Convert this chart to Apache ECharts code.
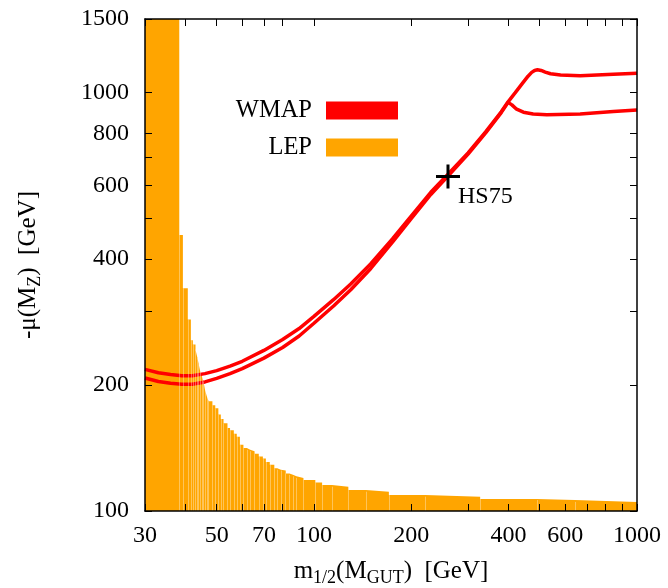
<!DOCTYPE html>
<html>
<head>
<meta charset="utf-8">
<script src="https://cdn.jsdelivr.net/npm/echarts@6/dist/echarts.min.js"></script>
<style>
  html, body { margin: 0; padding: 0; background: #fff; }
  #chart { width: 668px; height: 588px; }
</style>
</head>
<body>
<div id="chart"></div>
<script>
// Axis ranges (GeV)
const xRange = [30, 1000];
const yRange = [100, 1500];

// Tick marks and labelled ticks
const xTicks = [30, 40, 50, 60, 70, 80, 100, 200, 300, 400, 500, 600, 700, 800, 900, 1000];
const xLabels = [30, 50, 70, 100, 200, 400, 600, 1000];
const yTicks = [100, 200, 300, 400, 500, 600, 700, 800, 1000, 1500];
const yLabels = [100, 200, 400, 600, 800, 1000, 1500];

// WMAP-allowed strip: its two edges, [m1/2, -mu]
const wmapUpper = [
  [30, 218], [33, 214], [36, 212], [39, 210.5], [42, 210.5], [46, 213], [50, 216.5],
  [55, 222], [60, 228], [70, 242], [80, 257], [90, 273], [100, 292], [115, 320],
  [130, 349], [150, 390], [175, 447], [200, 507], [230, 578], [260, 638], [300, 718],
  [340, 806], [380, 900], [399, 951], [420, 1000], [440, 1048], [460, 1095], [472, 1118],
  [482, 1130], [492, 1134], [505, 1130], [520, 1120], [540, 1110], [580, 1102],
  [667, 1098], [845, 1107], [1000, 1113]
];
const wmapLower = [
  [30, 208], [33, 204], [36, 202], [39, 201], [42, 201], [46, 203.5], [50, 207.5],
  [55, 213], [60, 219], [70, 232], [80, 246], [90, 262], [100, 281], [115, 309],
  [130, 338], [150, 380], [175, 439], [200, 500], [230, 571], [260, 632], [300, 713],
  [340, 801], [380, 896], [399, 948], [404, 944], [410, 935], [424, 913], [445, 898],
  [477, 889], [526, 885], [667, 889], [845, 901], [1000, 909]
];

// LEP-excluded region: each step holds its height up to the next m1/2
const lepSteps = [
  [30, 1500], [38.3, 457], [39.3, 341], [40.7, 287], [41.6, 256], [42.2, 250], [43.0, 243],
  [43.6, 232], [44.0, 224], [44.5, 215], [45.0, 210], [45.5, 204], [46.0, 195], [46.6, 188],
  [47.2, 183], [48.5, 179], [49.5, 176], [50.6, 170], [51.5, 166], [52.5, 162], [54, 158],
  [55, 156], [56.5, 153], [57.7, 150.5], [59, 144], [60.5, 141.5], [62, 140], [63.5, 139],
  [65.5, 137], [67.5, 135], [69.5, 133.5], [71, 131], [73, 129], [75.4, 126.5], [77, 125.5],
  [79, 125], [81.8, 123], [84, 122], [86.1, 121], [88.3, 120], [92.8, 118.6], [101, 117],
  [106, 115.4], [113.7, 114.3], [127.8, 112.3], [144.8, 111.2], [170.6, 109.2],
  [221, 108.2], [327, 106.8], [490, 106.2], [643, 105.1], [1000, 105.1]
];

// Benchmark point
const hs75 = [[260, 630]];

const FONT = 'Liberation Serif';
const RED = '#ff0000';
const ORANGE = '#ffa500';

// faint seams between neighbouring LEP boxes
const lepSeams = lepSteps.slice(1, -1).map(p => [
  { coord: [p[0], yRange[0]] },
  { coord: [p[0], p[1]] }
]);

function xAxisDef(position, showLabels) {
  return {
    type: 'log', logBase: 10, min: xRange[0], max: xRange[1],
    position: position, z: 5,
    axisLine: { show: true, onZero: false, lineStyle: { color: '#000', width: 1.5 } },
    axisTick: { show: true, inside: true, length: 7, customValues: xTicks,
      lineStyle: { color: '#000', width: 1 } },
    axisLabel: { show: showLabels, customValues: xLabels, margin: 13,
      formatter: v => String(v), fontFamily: FONT, fontSize: 24, color: '#000' },
    splitLine: { show: false },
    minorTick: { show: false }
  };
}
function yAxisDef(position, showLabels) {
  return {
    type: 'log', logBase: 10, min: yRange[0], max: yRange[1],
    position: position, z: 5,
    axisLine: { show: true, onZero: false, lineStyle: { color: '#000', width: 1.5 } },
    axisTick: { show: true, inside: true, length: 7, customValues: yTicks,
      lineStyle: { color: '#000', width: 1 } },
    axisLabel: { show: showLabels, customValues: yLabels, margin: 16,
      formatter: v => String(v), fontFamily: FONT, fontSize: 24, color: '#000' },
    splitLine: { show: false },
    minorTick: { show: false }
  };
}

const subStyle = { fontFamily: FONT, fontSize: 18, lineHeight: 18, verticalAlign: 'bottom', color: '#000' };

const xBottom = xAxisDef('bottom', true);
xBottom.name = 'm{s|1/2}(M{s|GUT})  [GeV]';
xBottom.nameLocation = 'middle';
xBottom.nameGap = 45;
xBottom.nameTextStyle = { fontFamily: FONT, fontSize: 25, lineHeight: 31, color: '#000', rich: { s: subStyle } };

const yLeft = yAxisDef('left', true);
yLeft.name = '-\u03bc(M{s|Z})  [GeV]';
yLeft.nameLocation = 'middle';
yLeft.nameRotate = 90;
yLeft.nameGap = 101;
yLeft.nameTextStyle = { fontFamily: FONT, fontSize: 25, lineHeight: 31, color: '#000', rich: { s: subStyle } };

const chart = echarts.init(document.getElementById('chart'), null, { renderer: 'canvas' });
chart.setOption({
  animation: false,
  backgroundColor: '#fff',
  grid: { left: 145, right: 31, top: 19, bottom: 77, outerBoundsMode: 'none' },
  xAxis: [xBottom, xAxisDef('top', false)],
  yAxis: [yLeft, yAxisDef('right', false)],
  legend: {
    data: ['WMAP', 'LEP'],
    orient: 'vertical', align: 'right',
    right: 270, top: 98, padding: 0,
    icon: 'rect', itemWidth: 72, itemHeight: 18, itemGap: 12,
    selectedMode: false,
    textStyle: { fontFamily: FONT, fontSize: 24.5, color: '#000', padding: [0, 9, 0, 0] }
  },
  series: [
    {
      name: 'LEP', type: 'line', xAxisIndex: 0, yAxisIndex: 0,
      data: lepSteps, step: 'end', showSymbol: false, silent: true, z: 1,
      itemStyle: { color: ORANGE },
      lineStyle: { width: 0, color: ORANGE },
      areaStyle: { color: ORANGE, opacity: 1, origin: 'start' },
      markLine: {
        silent: true, symbol: 'none', animation: false,
        label: { show: false },
        lineStyle: { color: 'rgba(255,255,255,0.35)', width: 1, type: 'solid' },
        emphasis: { disabled: true },
        data: lepSeams
      }
    },
    {
      name: 'WMAP', type: 'line', xAxisIndex: 0, yAxisIndex: 0,
      data: wmapUpper, showSymbol: false, silent: true, z: 3,
      itemStyle: { color: RED }, lineStyle: { width: 3.5, color: RED }
    },
    {
      name: 'WMAP', type: 'line', xAxisIndex: 0, yAxisIndex: 0,
      data: wmapLower, showSymbol: false, silent: true, z: 3,
      itemStyle: { color: RED }, lineStyle: { width: 3.5, color: RED }
    },
    {
      name: 'HS75', type: 'scatter', xAxisIndex: 0, yAxisIndex: 0,
      data: hs75, silent: true, z: 4,
      symbol: 'path://M-1.5,-12 L1.5,-12 L1.5,-1.5 L12,-1.5 L12,1.5 L1.5,1.5 L1.5,12 L-1.5,12 L-1.5,1.5 L-12,1.5 L-12,-1.5 L-1.5,-1.5 Z',
      symbolSize: 24,
      itemStyle: { color: '#000', opacity: 1 },
      label: { show: true, formatter: 'HS75', position: 'right', distance: 0, offset: [-2, 20],
        fontFamily: FONT, fontSize: 24, color: '#000', opacity: 1 }
    }
  ]
});
</script>
</body>
</html>
